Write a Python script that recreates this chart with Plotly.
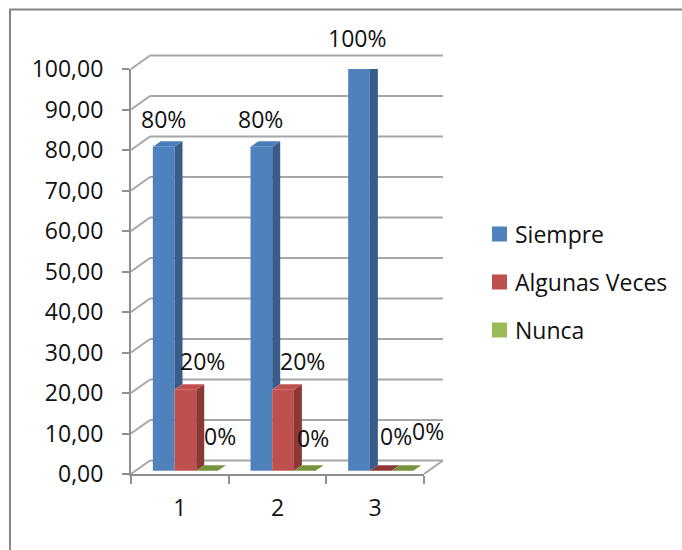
import plotly.graph_objects as go

# ---------------- data ----------------
categories = ["1", "2", "3"]
series_names = ["Siempre", "Algunas Veces", "Nunca"]
siempre = [80, 80, 100]
algunas_veces = [20, 20, 0]
nunca = [0, 0, 0]
label_siempre = ["80%", "80%", "100%"]
label_algunas = ["20%", "20%", "0%"]
label_nunca = ["0%", "0%", "0%"]
y_ticks = [0, 10, 20, 30, 40, 50, 60, 70, 80, 90, 100]

series_values = [siempre, algunas_veces, nunca]
series_labels = [label_siempre, label_algunas, label_nunca]

# ---------------- style ----------------
W, H = 682, 550
FONT = "Open Sans"
FS = 23
TXT = "#111111"
GRID = "#a6a6a6"
AXIS = "#8f8f8f"

front_col = ["#4f81bd", "#c0504d", "#9bbb59"]
side_col = ["#385d8a", "#8c3836", "#77933c"]
top_col = ["#4a7ebb", "#c0504d", "#9bbb59"]

# plot geometry (pixels)
PX_L, PX_R = 131, 424          # front plane x extent
PY_0, PY_100 = 474, 69         # front plane y of 0 and 100
px_per_x = (PX_R - PX_L) / 3.0
px_per_y = (PY_0 - PY_100) / 100.0
bar_lift = 3.3                 # bar plane lifted above front plane (px)
wall_dx, wall_dy = 19, 13.5    # back wall offset (px)
bar_w = 21.7 / px_per_x
bar_off0 = -27.0 / px_per_x
depth_dx = 8.0 / px_per_x
depth_dy = 5.5 / px_per_y

# label shifts (px) per series / category
lab_xshift = [[-0.5, -1, -2], [16.7, 19, 15.3], [12.5, 8.5, 26]]
lab_yshift = [[31, 31, 31], [32, 32, 38.5], [38, 36.5, 43]]


def px_x(p):
    return p / W


def px_y(p):
    return 1 - p / H


fig = go.Figure()

xpos = [1, 2, 3]

# front faces
for s, (name, vals) in enumerate(zip(series_names, series_values)):
    off = bar_off0 + s * bar_w
    fig.add_trace(go.Bar(
        x=xpos, y=vals, width=bar_w, offset=off,
        marker=dict(color=front_col[s], line=dict(width=0)),
        xaxis="x2", yaxis="y2", name=name, showlegend=False,
        hoverinfo="skip"))

# 3D side / top faces
for s, vals in enumerate(series_values):
    off = bar_off0 + s * bar_w
    for k, v in enumerate(vals):
        xl = xpos[k] + off
        xr = xl + bar_w
        if s < len(series_values) - 1:
            b = min(series_values[s + 1][k], v)
        else:
            b = 0
        if v > b:
            fig.add_trace(go.Scatter(
                x=[xr, xr + depth_dx, xr + depth_dx, xr, xr],
                y=[b, b + depth_dy, v + depth_dy, v, b],
                fill="toself", fillcolor=side_col[s], mode="lines",
                line=dict(width=0, color=side_col[s]),
                xaxis="x2", yaxis="y2", showlegend=False, hoverinfo="skip"))
        tc = top_col[s] if v > 0 else side_col[s]
        fig.add_trace(go.Scatter(
            x=[xl, xl + depth_dx, xr + depth_dx, xr, xl],
            y=[v, v + depth_dy, v + depth_dy, v, v],
            fill="toself", fillcolor=tc, mode="lines",
            line=dict(width=0, color=tc),
            xaxis="x2", yaxis="y2", showlegend=False, hoverinfo="skip"))

# dummy trace so category axis has its categories
fig.add_trace(go.Scatter(x=categories, y=[None] * 3, mode="markers",
                         showlegend=False, hoverinfo="skip"))

shapes = []
# border (left and top edges only visible)
shapes.append(dict(type="rect", xref="paper", yref="paper",
                   x0=px_x(10), x1=1.3, y0=px_y(9.5), y1=-0.3,
                   line=dict(color="#858585", width=2), layer="below"))
# back wall gridlines + side-wall diagonals
for v in y_ticks:
    yf = PY_0 - v * px_per_y
    yb = yf - wall_dy
    shapes.append(dict(type="line", xref="paper", yref="paper",
                       x0=px_x(PX_L), y0=px_y(yf), x1=px_x(PX_L + wall_dx), y1=px_y(yb),
                       line=dict(color=GRID, width=2), layer="below"))
    shapes.append(dict(type="line", xref="paper", yref="paper",
                       x0=px_x(PX_L + wall_dx), y0=px_y(yb), x1=px_x(PX_R + wall_dx), y1=px_y(yb),
                       line=dict(color=GRID, width=2), layer="below"))
# floor right edge
shapes.append(dict(type="line", xref="paper", yref="paper",
                   x0=px_x(PX_R), y0=px_y(PY_0), x1=px_x(PX_R + wall_dx), y1=px_y(PY_0 - wall_dy),
                   line=dict(color=GRID, width=2), layer="below"))

annotations = []
# data labels
for s, vals in enumerate(series_values):
    off = bar_off0 + s * bar_w
    for k, v in enumerate(vals):
        annotations.append(dict(
            x=xpos[k] + off + bar_w / 2, y=v, xref="x2", yref="y",
            text=series_labels[s][k], showarrow=False,
            xanchor="center", yanchor="middle",
            xshift=lab_xshift[s][k], yshift=lab_yshift[s][k],
            font=dict(family=FONT, size=FS, color=TXT)))

# legend (manual)
leg_y = [234, 282, 330]
for s, name in enumerate(series_names):
    shapes.append(dict(type="rect", xref="paper", yref="paper",
                       x0=px_x(492), x1=px_x(507),
                       y0=px_y(leg_y[s] + 7.5), y1=px_y(leg_y[s] - 7.5),
                       fillcolor=front_col[s], line=dict(width=0)))
    annotations.append(dict(x=px_x(513), y=px_y(leg_y[s]), xref="paper", yref="paper",
                            text=name, showarrow=False, xanchor="left", yanchor="middle",
                            font=dict(family=FONT, size=FS, color=TXT)))

dom_x = [px_x(PX_L), px_x(PX_R)]
dom_y = [px_y(PY_0), px_y(PY_100)]
lift_u = bar_lift / px_per_y

fig.update_layout(
    width=W, height=H, margin=dict(l=0, r=0, t=0, b=0, pad=0, autoexpand=False),
    paper_bgcolor="white", plot_bgcolor="rgba(0,0,0,0)",
    separators=",.", barmode="overlay", showlegend=False,
    font=dict(family=FONT, size=FS, color=TXT),
    xaxis=dict(type="category", categoryorder="array", categoryarray=categories,
               range=[-0.5, 2.5], domain=dom_x, tickson="boundaries",
               ticks="outside", ticklen=8, tickwidth=2, tickcolor=AXIS,
               showline=True, linecolor=AXIS, linewidth=2, showgrid=False,
               zeroline=False, ticklabelstandoff=12, automargin=False,
               tickfont=dict(family=FONT, size=FS, color=TXT), anchor="y"),
    yaxis=dict(range=[0, 100], domain=dom_y, tickvals=y_ticks, tickformat=".2f",
               ticks="outside", ticklen=7, tickwidth=2, tickcolor=AXIS,
               showline=True, linecolor=AXIS, linewidth=2, showgrid=False,
               zeroline=False, ticklabelstandoff=14, automargin=False,
               tickfont=dict(family=FONT, size=FS, color=TXT), anchor="x"),
    xaxis2=dict(range=[0.5, 3.5], overlaying="x", visible=False, anchor="y2"),
    yaxis2=dict(range=[-lift_u, 100 - lift_u], overlaying="y", visible=False, anchor="x2"),
    shapes=shapes, annotations=annotations,
)

fig.write_html("out.html")
